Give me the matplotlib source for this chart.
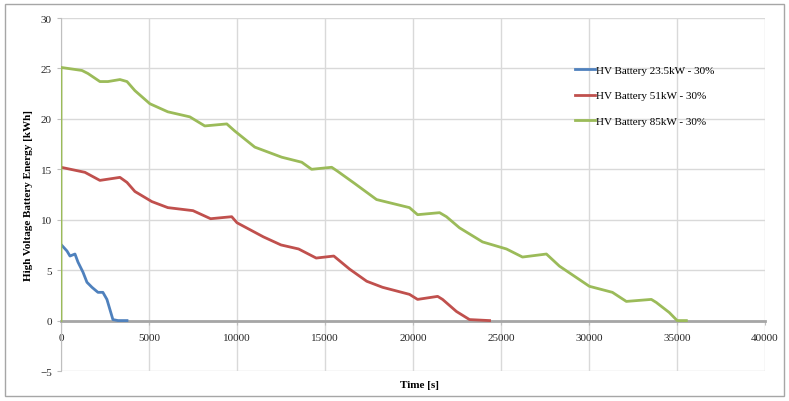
import numpy as np
import matplotlib.pyplot as plt
from matplotlib.patches import Rectangle

plt.rcParams['font.family'] = ['Liberation Serif', 'DejaVu Serif']

# time [s] / energy [kWh] for each battery size
t_23 = [0, 340, 510, 795, 965, 1250, 1475, 1760, 2100, 2380, 2610, 2950, 3240, 3750]
e_23 = [7.55, 6.9, 6.4, 6.6, 5.8, 4.8, 3.8, 3.3, 2.8, 2.8, 2.1, 0.1, 0.0, 0.0]

t_51 = [0, 1360, 2210, 3350, 3750, 4200, 5160, 6070, 7500, 8500, 9700, 10000,
        11500, 12500, 13500, 14500, 15500, 16400, 17370, 18270, 19800, 20260,
        21400, 21680, 22470, 23210, 24350]
e_51 = [15.2, 14.7, 13.9, 14.2, 13.7, 12.8, 11.8, 11.2, 10.9, 10.1, 10.3, 9.7,
        8.3, 7.5, 7.1, 6.2, 6.4, 5.1, 3.9, 3.3, 2.6, 2.1,
        2.4, 2.1, 0.9, 0.1, 0.0]

t_85 = [0, 0, 1190, 1530, 2210, 2670, 3350, 3750, 4200, 5050, 6070, 7320, 8170,
        9420, 9870, 11010, 12540, 13680, 14240, 15380, 15720, 16680, 17930,
        19800, 20260, 21510, 21900, 22640, 23950, 25310, 26220, 27580, 28320,
        30020, 31330, 32120, 33540, 33820, 34560, 35010, 35530]
e_85 = [0.0, 25.1, 24.8, 24.5, 23.7, 23.7, 23.9, 23.7, 22.8, 21.5, 20.7, 20.2, 19.3,
        19.5, 18.8, 17.2, 16.2, 15.7, 15.0, 15.2, 14.8, 13.6, 12.0,
        11.2, 10.5, 10.7, 10.3, 9.2, 7.8, 7.1, 6.3, 6.6, 5.4,
        3.4, 2.8, 1.9, 2.1, 1.8, 0.8, 0.0, 0.0]

labels = ['HV Battery 23.5kW - 30%', 'HV Battery 51kW - 30%', 'HV Battery 85kW - 30%']
colors = ['#4F81BD', '#C0504D', '#9BBB59']

fig = plt.figure(figsize=(7.89, 4.02), dpi=100)
ax = fig.add_axes([0.0773, 0.0746, 0.8923, 0.8781])

# outer chart border
fig.patches.append(Rectangle((0.006, 0.012), 0.988, 0.976, transform=fig.transFigure,
                             fill=False, edgecolor='#a6a6a6', linewidth=1))

for t, e, lab, c in zip([t_23, t_51, t_85], [e_23, e_51, e_85], labels, colors):
    ax.plot(t, e, color=c, linewidth=2, label=lab, zorder=3)

ax.set_xlim(0, 40000)
ax.set_ylim(-5, 30)
ax.set_xticks(np.arange(0, 40001, 5000))
ax.set_yticks(np.arange(-5, 31, 5))
ax.grid(True, color='#d9d9d9', linewidth=1)
ax.set_axisbelow(True)

for s in ['top', 'right']:
    ax.spines[s].set_visible(False)
ax.spines['bottom'].set_position(('data', 0))
ax.spines['bottom'].set_color('#a6a6a6')
ax.spines['bottom'].set_linewidth(2)
ax.spines['left'].set_color('#bfbfbf')
ax.tick_params(axis='both', length=3, color='#bfbfbf', labelsize=8, labelcolor='#262626')
ax.tick_params(axis='x', pad=6)

fig.text(0.532, 0.042, 'Time [s]', fontsize=8, fontweight='bold', ha='center', va='center')
fig.text(0.036, 0.514, 'High Voltage Battery Energy [kWh]', fontsize=8, fontweight='bold',
         rotation=90, ha='center', va='center')

ax.legend(loc='upper left', bbox_to_anchor=(0.716, 0.896), frameon=False, fontsize=8,
          handlelength=1.8, handletextpad=0.1, labelspacing=1.45)

fig.savefig('out.png', dpi=100)
